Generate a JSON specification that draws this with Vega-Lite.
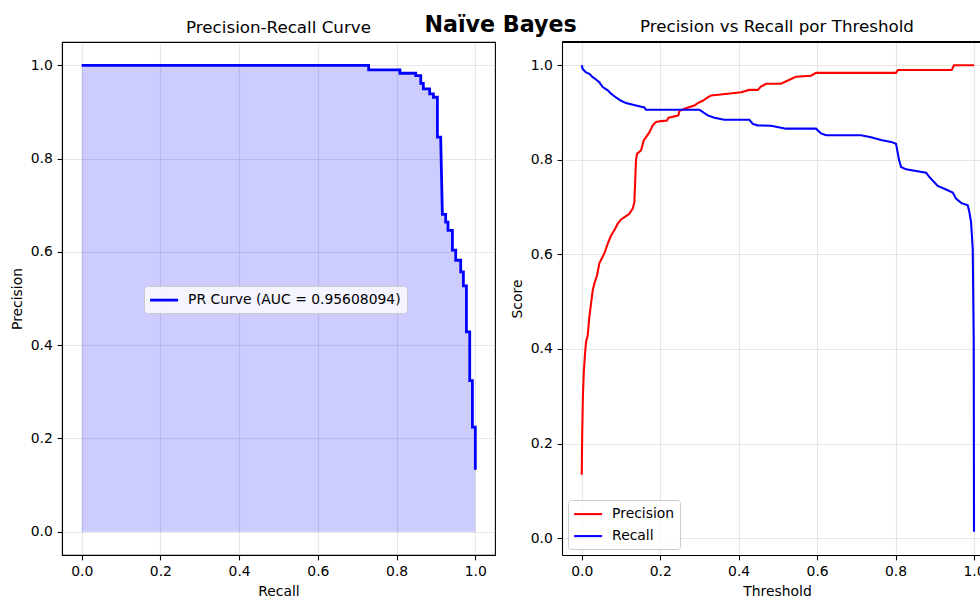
{
  "$schema": "https://vega.github.io/schema/vega-lite/v6.json",
  "title": {"text": "Naïve Bayes", "fontSize": 22.2, "fontWeight": "bold", "font": "DejaVu Sans", "color": "black", "anchor": "middle", "offset": -17, "dx": 3},
  "padding": {"left": 10, "top": 14, "right": -3, "bottom": -2},
  "spacing": 14,
  "resolve": {"scale": {"color": "independent"}, "legend": {"color": "independent"}},
  "config": {
    "font": "DejaVu Sans",
    "view": {"stroke": "black", "strokeWidth": 1.1},
    "axis": {"domain": true, "domainColor": "black", "domainWidth": 1.1, "tickColor": "black", "tickSize": 4.86, "tickWidth": 1.1, "labelFontSize": 13.9, "labelColor": "black", "labelPadding": 4.86, "titleFontSize": 13.9, "titleFontWeight": "normal", "titleColor": "black", "titlePadding": 5.6, "grid": true, "gridColor": "#b0b0b0", "gridOpacity": 0.3, "gridWidth": 1.1, "labelFont": "DejaVu Sans", "titleFont": "DejaVu Sans"},
    "title": {"fontSize": 16.7, "fontWeight": "normal", "font": "DejaVu Sans", "color": "black", "offset": 5.3},
    "legend": {"title": null, "orient": "none", "symbolType": "M-2,0H2", "symbolSize": 196, "symbolOffset": 6, "labelFontSize": 13.9, "labelFont": "DejaVu Sans", "labelColor": "black", "labelLimit": 400, "fillColor": "rgba(255,255,255,0.8)", "strokeColor": "#cccccc", "cornerRadius": 3, "padding": 5.6, "labelOffset": 15.5}
  },
  "datasets": {
    "pr": [
      {"idx": 0, "recall": 0.0, "precision": 1.0},
      {"idx": 1, "recall": 0.729, "precision": 1.0},
      {"idx": 2, "recall": 0.729, "precision": 0.990},
      {"idx": 3, "recall": 0.8085, "precision": 0.990},
      {"idx": 4, "recall": 0.8085, "precision": 0.983},
      {"idx": 5, "recall": 0.8485, "precision": 0.983},
      {"idx": 6, "recall": 0.8485, "precision": 0.978},
      {"idx": 7, "recall": 0.8614, "precision": 0.978},
      {"idx": 8, "recall": 0.8614, "precision": 0.9615},
      {"idx": 9, "recall": 0.868, "precision": 0.9615},
      {"idx": 10, "recall": 0.868, "precision": 0.9495},
      {"idx": 11, "recall": 0.884, "precision": 0.9495},
      {"idx": 12, "recall": 0.884, "precision": 0.9388},
      {"idx": 13, "recall": 0.8935, "precision": 0.9388},
      {"idx": 14, "recall": 0.8935, "precision": 0.9315},
      {"idx": 15, "recall": 0.9037, "precision": 0.9315},
      {"idx": 16, "recall": 0.9037, "precision": 0.846},
      {"idx": 17, "recall": 0.912, "precision": 0.846},
      {"idx": 18, "recall": 0.9163, "precision": 0.6805},
      {"idx": 19, "recall": 0.9247, "precision": 0.6805},
      {"idx": 20, "recall": 0.9247, "precision": 0.664},
      {"idx": 21, "recall": 0.9306, "precision": 0.664},
      {"idx": 22, "recall": 0.9306, "precision": 0.646},
      {"idx": 23, "recall": 0.9418, "precision": 0.646},
      {"idx": 24, "recall": 0.9418, "precision": 0.6035},
      {"idx": 25, "recall": 0.9502, "precision": 0.6035},
      {"idx": 26, "recall": 0.9502, "precision": 0.582},
      {"idx": 27, "recall": 0.9629, "precision": 0.582},
      {"idx": 28, "recall": 0.9629, "precision": 0.557},
      {"idx": 29, "recall": 0.9697, "precision": 0.557},
      {"idx": 30, "recall": 0.9697, "precision": 0.527},
      {"idx": 31, "recall": 0.9774, "precision": 0.527},
      {"idx": 32, "recall": 0.9774, "precision": 0.4286},
      {"idx": 33, "recall": 0.9858, "precision": 0.4286},
      {"idx": 34, "recall": 0.9858, "precision": 0.3238},
      {"idx": 35, "recall": 0.9926, "precision": 0.3238},
      {"idx": 36, "recall": 0.9926, "precision": 0.224},
      {"idx": 37, "recall": 1.0, "precision": 0.224},
      {"idx": 38, "recall": 1.0, "precision": 0.1327}
    ],
    "thr": [
      {"series": "Precision", "threshold": 0.0, "score": 0.134},
      {"series": "Precision", "threshold": 0.0012, "score": 0.22},
      {"series": "Precision", "threshold": 0.003, "score": 0.30},
      {"series": "Precision", "threshold": 0.0051, "score": 0.348},
      {"series": "Precision", "threshold": 0.0084, "score": 0.39},
      {"series": "Precision", "threshold": 0.011, "score": 0.415},
      {"series": "Precision", "threshold": 0.0153, "score": 0.429},
      {"series": "Precision", "threshold": 0.0194, "score": 0.468},
      {"series": "Precision", "threshold": 0.0237, "score": 0.496},
      {"series": "Precision", "threshold": 0.028, "score": 0.524},
      {"series": "Precision", "threshold": 0.0321, "score": 0.538},
      {"series": "Precision", "threshold": 0.039, "score": 0.556},
      {"series": "Precision", "threshold": 0.0449, "score": 0.581},
      {"series": "Precision", "threshold": 0.0492, "score": 0.588},
      {"series": "Precision", "threshold": 0.0576, "score": 0.602},
      {"series": "Precision", "threshold": 0.0663, "score": 0.623},
      {"series": "Precision", "threshold": 0.0747, "score": 0.640},
      {"series": "Precision", "threshold": 0.0831, "score": 0.651},
      {"series": "Precision", "threshold": 0.0918, "score": 0.665},
      {"series": "Precision", "threshold": 0.1002, "score": 0.674},
      {"series": "Precision", "threshold": 0.1129, "score": 0.681},
      {"series": "Precision", "threshold": 0.1213, "score": 0.686},
      {"series": "Precision", "threshold": 0.13, "score": 0.697},
      {"series": "Precision", "threshold": 0.1341, "score": 0.710},
      {"series": "Precision", "threshold": 0.1384, "score": 0.80},
      {"series": "Precision", "threshold": 0.141, "score": 0.813},
      {"series": "Precision", "threshold": 0.1512, "score": 0.820},
      {"series": "Precision", "threshold": 0.158, "score": 0.841},
      {"series": "Precision", "threshold": 0.1639, "score": 0.848},
      {"series": "Precision", "threshold": 0.1723, "score": 0.858},
      {"series": "Precision", "threshold": 0.181, "score": 0.873},
      {"series": "Precision", "threshold": 0.1894, "score": 0.880},
      {"series": "Precision", "threshold": 0.2021, "score": 0.882},
      {"series": "Precision", "threshold": 0.2174, "score": 0.883},
      {"series": "Precision", "threshold": 0.2207, "score": 0.889},
      {"series": "Precision", "threshold": 0.236, "score": 0.892},
      {"series": "Precision", "threshold": 0.2462, "score": 0.894},
      {"series": "Precision", "threshold": 0.2488, "score": 0.903},
      {"series": "Precision", "threshold": 0.2615, "score": 0.908},
      {"series": "Precision", "threshold": 0.287, "score": 0.915},
      {"series": "Precision", "threshold": 0.2957, "score": 0.920},
      {"series": "Precision", "threshold": 0.3084, "score": 0.925},
      {"series": "Precision", "threshold": 0.3212, "score": 0.932},
      {"series": "Precision", "threshold": 0.3296, "score": 0.936},
      {"series": "Precision", "threshold": 0.3722, "score": 0.940},
      {"series": "Precision", "threshold": 0.4061, "score": 0.943},
      {"series": "Precision", "threshold": 0.4272, "score": 0.948},
      {"series": "Precision", "threshold": 0.4486, "score": 0.948},
      {"series": "Precision", "threshold": 0.457, "score": 0.955},
      {"series": "Precision", "threshold": 0.47, "score": 0.961},
      {"series": "Precision", "threshold": 0.508, "score": 0.961},
      {"series": "Precision", "threshold": 0.5337, "score": 0.971},
      {"series": "Precision", "threshold": 0.5463, "score": 0.976},
      {"series": "Precision", "threshold": 0.5845, "score": 0.978},
      {"series": "Precision", "threshold": 0.5973, "score": 0.984},
      {"series": "Precision", "threshold": 0.8012, "score": 0.984},
      {"series": "Precision", "threshold": 0.806, "score": 0.990},
      {"series": "Precision", "threshold": 0.9432, "score": 0.990},
      {"series": "Precision", "threshold": 0.949, "score": 1.0},
      {"series": "Precision", "threshold": 1.0, "score": 1.0},
      {"series": "Recall", "threshold": 0.0, "score": 1.0},
      {"series": "Recall", "threshold": 0.0025, "score": 0.992},
      {"series": "Recall", "threshold": 0.011, "score": 0.985},
      {"series": "Recall", "threshold": 0.0194, "score": 0.982},
      {"series": "Recall", "threshold": 0.028, "score": 0.975},
      {"series": "Recall", "threshold": 0.0365, "score": 0.970},
      {"series": "Recall", "threshold": 0.0449, "score": 0.964},
      {"series": "Recall", "threshold": 0.0535, "score": 0.954},
      {"series": "Recall", "threshold": 0.0663, "score": 0.947},
      {"series": "Recall", "threshold": 0.0747, "score": 0.940},
      {"series": "Recall", "threshold": 0.0874, "score": 0.932},
      {"series": "Recall", "threshold": 0.1002, "score": 0.925},
      {"series": "Recall", "threshold": 0.1129, "score": 0.920},
      {"series": "Recall", "threshold": 0.1384, "score": 0.915},
      {"series": "Recall", "threshold": 0.1596, "score": 0.911},
      {"series": "Recall", "threshold": 0.1639, "score": 0.906},
      {"series": "Recall", "threshold": 0.2998, "score": 0.906},
      {"series": "Recall", "threshold": 0.3212, "score": 0.894},
      {"series": "Recall", "threshold": 0.338, "score": 0.889},
      {"series": "Recall", "threshold": 0.3635, "score": 0.885},
      {"series": "Recall", "threshold": 0.4272, "score": 0.885},
      {"series": "Recall", "threshold": 0.4359, "score": 0.876},
      {"series": "Recall", "threshold": 0.4486, "score": 0.873},
      {"series": "Recall", "threshold": 0.4825, "score": 0.872},
      {"series": "Recall", "threshold": 0.508, "score": 0.868},
      {"series": "Recall", "threshold": 0.5208, "score": 0.866},
      {"series": "Recall", "threshold": 0.5973, "score": 0.866},
      {"series": "Recall", "threshold": 0.61, "score": 0.856},
      {"series": "Recall", "threshold": 0.6228, "score": 0.852},
      {"series": "Recall", "threshold": 0.712, "score": 0.852},
      {"series": "Recall", "threshold": 0.7375, "score": 0.848},
      {"series": "Recall", "threshold": 0.763, "score": 0.842},
      {"series": "Recall", "threshold": 0.7885, "score": 0.838},
      {"series": "Recall", "threshold": 0.8012, "score": 0.834},
      {"series": "Recall", "threshold": 0.8088, "score": 0.80},
      {"series": "Recall", "threshold": 0.814, "score": 0.785},
      {"series": "Recall", "threshold": 0.8267, "score": 0.780},
      {"series": "Recall", "threshold": 0.8777, "score": 0.773},
      {"series": "Recall", "threshold": 0.886, "score": 0.764},
      {"series": "Recall", "threshold": 0.9075, "score": 0.745},
      {"series": "Recall", "threshold": 0.9243, "score": 0.739},
      {"series": "Recall", "threshold": 0.9457, "score": 0.731},
      {"series": "Recall", "threshold": 0.9541, "score": 0.718},
      {"series": "Recall", "threshold": 0.9669, "score": 0.709},
      {"series": "Recall", "threshold": 0.984, "score": 0.704},
      {"series": "Recall", "threshold": 0.988, "score": 0.690},
      {"series": "Recall", "threshold": 0.9924, "score": 0.669},
      {"series": "Recall", "threshold": 0.9967, "score": 0.612},
      {"series": "Recall", "threshold": 0.9992, "score": 0.419},
      {"series": "Recall", "threshold": 1.0, "score": 0.0135}
    ]
  },
  "hconcat": [
    {
      "width": 433,
      "height": 513,
      "title": {"text": "Precision-Recall Curve", "frame": "group", "anchor": "middle"},
      "data": {"name": "pr"},
      "encoding": {
        "x": {"field": "recall", "type": "quantitative", "title": "Recall", "scale": {"domain": [-0.05, 1.05], "nice": false, "zero": false}, "axis": {"values": [0, 0.2, 0.4, 0.6, 0.8, 1.0], "format": ".1f"}},
        "y": {"field": "precision", "type": "quantitative", "title": "Precision", "stack": null, "scale": {"domain": [-0.05, 1.05], "nice": false, "zero": false}, "axis": {"values": [0, 0.2, 0.4, 0.6, 0.8, 1.0], "format": ".1f"}}
      },
      "layer": [
        {"mark": {"type": "area", "color": "blue", "fillOpacity": 0.2, "interpolate": "linear"}},
        {"mark": {"type": "line", "strokeWidth": 2.78, "interpolate": "linear"},
         "encoding": {
           "order": {"field": "idx"},
           "color": {"datum": "PR Curve (AUC = 0.95608094)", "scale": {"range": ["#0000ff"]}, "legend": {"legendX": 82, "legendY": 244, "symbolStrokeWidth": 2.78}}
         }}
      ]
    },
    {
      "width": 419,
      "height": 513,
      "view": {"stroke": null},
      "title": {"text": "Precision vs Recall por Threshold", "frame": "group", "anchor": "middle", "dx": 5.5},
      "data": {"name": "thr"},
      "layer": [
        {"mark": {"type": "line", "strokeWidth": 2.08, "interpolate": "linear"},
         "encoding": {
           "x": {"field": "threshold", "type": "quantitative", "title": "Threshold", "scale": {"domain": [-0.0503, 1.0178], "nice": false, "zero": false}, "axis": {"values": [0, 0.2, 0.4, 0.6, 0.8, 1.0], "format": ".1f", "titleX": 215}},
           "y": {"field": "score", "type": "quantitative", "title": "Score", "scale": {"domain": [-0.0358, 1.0493], "nice": false, "zero": false}, "axis": {"values": [0, 0.2, 0.4, 0.6, 0.8, 1.0], "format": ".1f"}},
           "color": {"field": "series", "type": "nominal", "scale": {"domain": ["Precision", "Recall"], "range": ["#ff0000", "#0000ff"]}, "legend": {"legendX": 6, "legendY": 458, "symbolStrokeWidth": 2.08, "rowPadding": 6}}
         }},
        {"mark": {"type": "rule", "color": "black", "strokeWidth": 1.1}, "encoding": {"y": {"datum": 1.0493}}}
      ]
    }
  ]
}
